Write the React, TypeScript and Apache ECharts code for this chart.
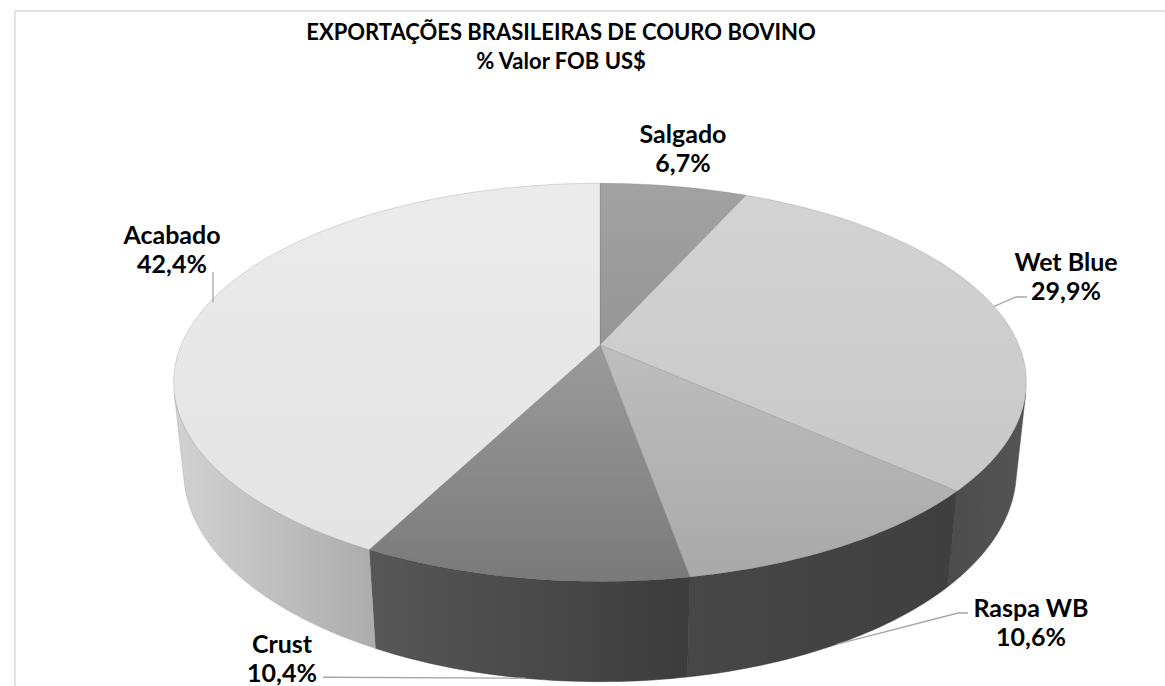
import React, { useEffect, useRef } from 'react';
import * as echarts from 'echarts';

// ---- data ----
const categories = ['Salgado', 'Wet Blue', 'Raspa WB', 'Crust', 'Acabado'];
const shares = [6.7, 29.9, 10.6, 10.4, 42.4];
const titleLines = ['EXPORTAÇÕES BRASILEIRAS DE COURO BOVINO', '% Valor FOB US$'];

// ---- styles ----
const topColors: [string, string][] = [
  ['#a2a2a2', '#969696'],
  ['#d3d3d3', '#c8c8c8'],
  ['#bebebe', '#a9a9a9'],
  ['#9b9b9b', '#7a7a7a'],
  ['#ebebeb', '#e4e4e4'],
];
const wallColors: [string, string][] = [
  ['#6a6a6a', '#5a5a5a'],
  ['#4c4c4c', '#555555'],
  ['#474747', '#3f3f3f'],
  ['#575757', '#3c3c3c'],
  ['#d2d2d2', '#acacac'],
];
const FONT = 'Lato';

// ---- projection (perspective 3D pie) ----
const CX = 600;
const CY = 345;
const FOCAL = 1985;
const DIST = 4.74;
const TILT = (27.3 * Math.PI) / 180;
const DEPTH = 0.24;
const ST = Math.sin(TILT);
const CT = Math.cos(TILT);

function project(phi: number, y: number): [number, number] {
  const X = Math.sin(phi);
  const Z = -Math.cos(phi);
  const v = y * CT - Z * ST;
  const d = DIST - (y * ST + Z * CT);
  return [CX + (FOCAL * X) / d, CY - (FOCAL * v) / d];
}

const VIS0 = Math.acos(-1 / (DIST * CT));
const VIS1 = 2 * Math.PI - VIS0;

const total = shares.reduce((a, b) => a + b, 0);
const sliceData: number[][] = [];
{
  let acc = 0;
  shares.forEach((v, i) => {
    const a0 = (acc / total) * Math.PI * 2;
    acc += v;
    const a1 = (acc / total) * Math.PI * 2;
    sliceData.push([a0, a1, i]);
  });
}

function arcPoints(a0: number, a1: number, y: number): [number, number][] {
  const n = Math.max(2, Math.ceil(((a1 - a0) * 180) / Math.PI));
  const pts: [number, number][] = [];
  for (let k = 0; k <= n; k++) pts.push(project(a0 + ((a1 - a0) * k) / n, y));
  return pts;
}

function grad(c: [string, string], horizontal: boolean) {
  return new echarts.graphic.LinearGradient(0, 0, horizontal ? 1 : 0, horizontal ? 0 : 1, [
    { offset: 0, color: c[0] },
    { offset: 1, color: c[1] },
  ]);
}

// label layout (text block centres & leader elbows)
const labelCenters: [number, number][] = [
  [683, 147],
  [1066, 275],
  [1031, 621],
  [282, 657],
  [172, 248],
];
const leaderEnds: ([number, number][] | null)[] = [
  null,
  [[1016, 297], [1027, 297]],
  [[958, 613], [968, 613]],
  [[323, 677]],
  [[213, 272]],
];

export default function App() {
  const ref = useRef<HTMLDivElement>(null);
  useEffect(() => {
    if (!ref.current) return;
    const chart = echarts.init(ref.current, undefined, { renderer: 'svg' });

    const graphics: any[] = [
      {
        type: 'rect',
        shape: { x: 15, y: 11, width: 1200, height: 720 },
        style: { fill: 'none', stroke: '#d9d9d9', lineWidth: 1.5 },
        silent: true,
        z: 0,
      },
      {
        type: 'text',
        x: 561,
        y: 46,
        style: {
          text: titleLines.join('\n'),
          font: `bold 22px ${FONT}`,
          fill: '#000',
          align: 'center',
          verticalAlign: 'middle',
          lineHeight: 29,
        },
        z: 10,
      },
    ];

    sliceData.forEach(([a0, a1, i]) => {
      const mid = (a0 + a1) / 2;
      const front = mid > VIS0 && mid < VIS1;
      const anchor = project(mid, front ? -DEPTH : 0);
      const ends = leaderEnds[i];
      if (ends) {
        let pts: [number, number][] = [anchor, ...ends];
        if (i === 3) pts = [anchor, [ends[0][0], anchor[1] - 1]];
        if (i === 4) pts = [[ends[0][0], anchor[1] + 1], [ends[0][0], ends[0][1]]];
        graphics.push({
          type: 'polyline',
          shape: { points: pts },
          style: { stroke: '#a6a6a6', lineWidth: 1.3, fill: 'none' },
          z: 5,
        });
      }
      const lc = labelCenters[i];
      graphics.push({
        type: 'text',
        x: lc[0],
        y: lc[1],
        style: {
          text: categories[i] + '\n' + shares[i].toFixed(1).replace('.', ',') + '%',
          font: `bold 25px ${FONT}`,
          fill: '#000',
          align: 'center',
          verticalAlign: 'middle',
          lineHeight: 29,
        },
        z: 10,
      });
    });

    chart.setOption({
      animation: false,
      backgroundColor: '#ffffff',
      graphic: graphics,
      series: [
        {
          type: 'custom',
          name: 'walls',
          coordinateSystem: 'none',
          z: 2,
          silent: true,
          data: sliceData,
          renderItem: (params: any, api: any) => {
            const a0 = api.value(0);
            const a1 = api.value(1);
            const i = api.value(2);
            const s = Math.max(a0, VIS0);
            const e = Math.min(a1, VIS1);
            if (e <= s) return { type: 'group', children: [] };
            const topPts = arcPoints(s, e, 0);
            const botPts = arcPoints(s, e, -DEPTH).reverse();
            return {
              type: 'polygon',
              shape: { points: [...topPts, ...botPts] },
              style: { fill: grad(wallColors[i], true), stroke: wallColors[i][1], lineWidth: 0.5 },
            };
          },
        },
        {
          type: 'custom',
          name: 'tops',
          coordinateSystem: 'none',
          z: 3,
          silent: true,
          data: sliceData,
          renderItem: (params: any, api: any) => {
            const a0 = api.value(0);
            const a1 = api.value(1);
            const i = api.value(2);
            const pts: [number, number][] = [[CX, CY], ...arcPoints(a0, a1, 0)];
            return {
              type: 'polygon',
              shape: { points: pts },
              style: { fill: grad(topColors[i], false), stroke: 'rgba(90,90,90,0.35)', lineWidth: 0.6 },
            };
          },
        },
      ],
    });
    return () => chart.dispose();
  }, []);
  return (
    <div
      ref={ref}
      style={{ position: 'fixed', left: 0, top: 0, width: 1165, height: 686 }}
    />
  );
}
